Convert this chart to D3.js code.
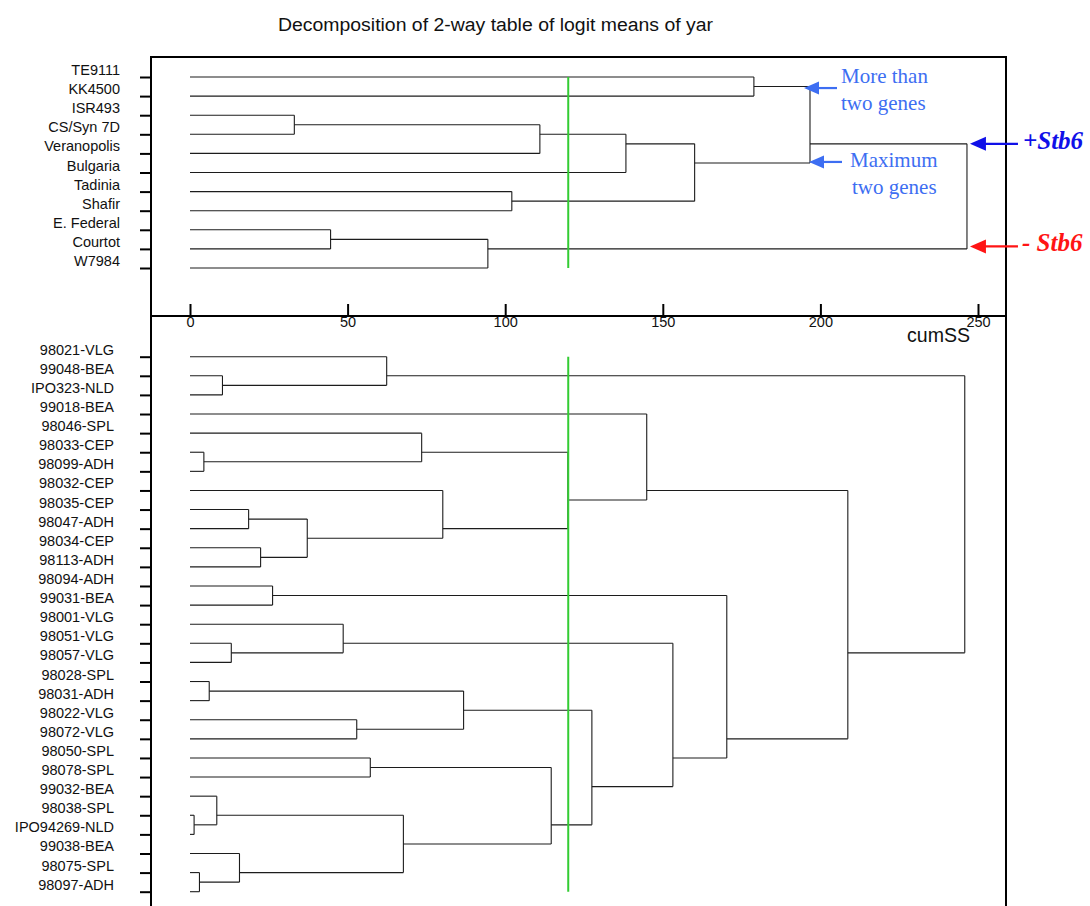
<!DOCTYPE html>
<html>
<head>
<meta charset="utf-8">
<script src="https://cdn.jsdelivr.net/npm/d3@7"></script>
<style>
  body { margin: 0; background: #fff; }
  svg { display: block; font-family: "Liberation Sans", Arial, sans-serif; }
</style>
</head>
<body>
<svg id="chart" width="1090" height="906"></svg>
<script>
// cultivars (top panel), in display order
var topLabels = ["TE9111", "KK4500", "ISR493", "CS/Syn 7D", "Veranopolis", "Bulgaria",
    "Tadinia", "Shafir", "E. Federal", "Courtot", "W7984"];
// merges, hclust style: -k = leaf k (1-based), +m = merge m (1-based)
var topMerge = [[-3, -4], [-9, -10], [2, -11], [-7, -8], [1, -5], [5, -6], [6, 4], [-1, -2], [8, 7], [9, 3]];
var topHeight = [33.1, 44.6, 94.5, 102.1, 111.0, 138.3, 160.1, 178.9, 196.7, 246.5];

// isolates (bottom panel), in display order
var botLabels = ["98021-VLG", "99048-BEA", "IPO323-NLD", "99018-BEA", "98046-SPL", "98033-CEP",
    "98099-ADH", "98032-CEP", "98035-CEP", "98047-ADH", "98034-CEP", "98113-ADH", "98094-ADH",
    "99031-BEA", "98001-VLG", "98051-VLG", "98057-VLG", "98028-SPL", "98031-ADH", "98022-VLG",
    "98072-VLG", "98050-SPL", "98078-SPL", "99032-BEA", "98038-SPL", "IPO94269-NLD", "99038-BEA",
    "98075-SPL", "98097-ADH"];
var botMerge = [[-25, -26], [-28, -29], [-6, -7], [-18, -19], [-24, 1], [-2, -3], [-16, -17],
    [-27, 2], [-9, -10], [-11, -12], [-13, -14], [9, 10], [-15, 7], [-20, -21], [-22, -23],
    [-1, 6], [5, 8], [-5, 3], [-8, 12], [4, 14], [15, 17], [18, 19], [20, 21], [-4, 22],
    [13, 23], [11, 25], [24, 26], [16, 27]];
var botHeight = [1.3, 3.0, 4.4, 6.1, 8.5, 10.3, 13.1, 15.7, 18.6, 22.4, 26.2, 37.2, 48.6, 52.9,
    57.2, 62.4, 67.7, 73.5, 80.2, 86.8, 114.6, 119.9, 127.5, 144.9, 153.2, 170.3, 208.7, 245.8];

var axisTicks = [0, 50, 100, 150, 200, 250];
var cutHeight = 120;

var svg = d3.select("#chart");

var frameLeft = 151, frameRight = 1006, frameTop = 57, axisY = 316;

var x = d3.scaleLinear().domain([0, 250]).range([190, 978]);
var yTop = d3.scalePoint().domain(topLabels).range([77, 268]);
var yBot = d3.scalePoint().domain(botLabels).range([356.7, 891.7]);

// build the tree nodes and draw the elbows
function drawTree(labels, merge, heights, y) {
    var nodes = [];
    function node(k) {
        if (k < 0) return {y: y(labels[-k - 1]), h: 0, n: 1};
        return nodes[k - 1];
    }
    merge.forEach(function (m, i) {
        var a = node(m[0]), b = node(m[1]);
        var n = a.n + b.n;
        nodes.push({a: a, b: b, h: heights[i], n: n, y: (a.y * a.n + b.y * b.n) / n});
    });

    var segs = [];
    nodes.forEach(function (d) {
        segs.push([d.h, d.a.y, d.h, d.b.y]);
        segs.push([d.a.h, d.a.y, d.h, d.a.y]);
        segs.push([d.b.h, d.b.y, d.h, d.b.y]);
    });

    svg.append("g")
        .selectAll("line")
        .data(segs)
        .enter()
        .append("line")
        .attr("x1", function (s) { return x(s[0]); })
        .attr("y1", function (s) { return s[1]; })
        .attr("x2", function (s) { return x(s[2]); })
        .attr("y2", function (s) { return s[3]; })
        .attr("stroke", "#1c1c1c")
        .attr("stroke-width", 1.1);

    // cut line
    svg.append("line")
        .attr("x1", x(cutHeight)).attr("x2", x(cutHeight))
        .attr("y1", y(labels[0])).attr("y2", y(labels[labels.length - 1]))
        .attr("stroke", "#33cc33")
        .attr("stroke-width", 2);

    return nodes;
}

// left axis with labels shifted up a little, as in the original print
function leftAxis(y, padding) {
    var g = svg.append("g")
        .attr("transform", "translate(" + frameLeft + ",0)")
        .call(d3.axisLeft(y).tickSize(11).tickPadding(padding));
    g.select(".domain").remove();
    g.selectAll("line").attr("stroke", "#000").attr("stroke-width", 2);
    g.selectAll("text")
        .attr("dy", null)
        .attr("y", -2.5)
        .attr("fill", "#111")
        .style("font-family", "'Liberation Sans', Arial, sans-serif")
        .style("font-size", "14.5px");
}

leftAxis(yTop, 20);
leftAxis(yBot, 26);

var topNodes = drawTree(topLabels, topMerge, topHeight, yTop);
drawTree(botLabels, botMerge, botHeight, yBot);

// frame
var frame = svg.append("g").attr("stroke", "#000").attr("stroke-width", 2);
frame.append("line").attr("x1", frameLeft).attr("x2", frameRight + 1).attr("y1", frameTop).attr("y2", frameTop);
frame.append("line").attr("x1", frameLeft).attr("x2", frameLeft).attr("y1", frameTop - 1).attr("y2", 906);
frame.append("line").attr("x1", frameRight).attr("x2", frameRight).attr("y1", frameTop - 1).attr("y2", 906);
frame.append("line").attr("x1", frameLeft).attr("x2", frameRight).attr("y1", axisY).attr("y2", axisY);

// cumSS axis
var ax = svg.append("g")
    .attr("transform", "translate(0," + axisY + ")")
    .call(d3.axisBottom(x).tickValues(axisTicks).tickSizeInner(-12).tickSizeOuter(0).tickPadding(1));
ax.select(".domain").remove();
ax.selectAll("line").attr("stroke", "#000").attr("stroke-width", 2);
ax.selectAll("text")
    .attr("fill", "#111")
    .style("font-family", "'Liberation Sans', Arial, sans-serif")
    .style("font-size", "14.5px");

svg.append("text")
    .attr("x", 907).attr("y", 342)
    .attr("fill", "#111")
    .style("font-size", "20px")
    .attr("textLength", 63)
    .attr("lengthAdjust", "spacingAndGlyphs")
    .text("cumSS");

// title
svg.append("text")
    .attr("x", 278).attr("y", 31)
    .attr("fill", "#111")
    .style("font-size", "18px")
    .attr("textLength", 435)
    .attr("lengthAdjust", "spacingAndGlyphs")
    .text("Decomposition of 2-way table of logit means of yar");

// annotations
var nodeA = topNodes[7], nodeF = topNodes[6], nodeG = topNodes[8], nodeI = topNodes[2], root = topNodes[9];

function arrow(tipX, tipY, len, headLen, headHalf, color) {
    svg.append("line")
        .attr("x1", tipX + headLen - 2).attr("x2", tipX + len)
        .attr("y1", tipY).attr("y2", tipY)
        .attr("stroke", color).attr("stroke-width", 2.2);
    svg.append("path")
        .attr("d", "M" + tipX + "," + tipY + "L" + (tipX + headLen) + "," + (tipY - headHalf) +
            "L" + (tipX + headLen) + "," + (tipY + headHalf) + "Z")
        .attr("fill", color);
}

var noteBlue = "#3d6ef2";
arrow(x(nodeG.h) - 6, nodeA.y + 1.5, 33, 15, 6.5, noteBlue);
arrow(x(nodeG.h) - 1, nodeF.y - 1, 33, 15, 6.5, noteBlue);
arrow(x(root.h) + 3, nodeG.y, 48, 16, 7, "#1010e8");
arrow(x(root.h) + 3, nodeI.y - 2.5, 48, 16, 7, "#ff1414");

var notes = [
    {t: "More than", x: 841, y: 83},
    {t: "two genes", x: 841, y: 110},
    {t: "Maximum", x: 850, y: 167},
    {t: "two genes", x: 852, y: 193.5}
];
svg.selectAll("text.note")
    .data(notes)
    .enter()
    .append("text")
    .attr("class", "note")
    .attr("x", function (d) { return d.x; })
    .attr("y", function (d) { return d.y; })
    .attr("fill", noteBlue)
    .style("font-family", "'Liberation Serif', 'Times New Roman', serif")
    .style("font-size", "21px")
    .text(function (d) { return d.t; });

svg.append("text")
    .attr("x", 1023).attr("y", 148.5)
    .attr("fill", "#1010e8")
    .style("font-family", "'Liberation Serif', 'Times New Roman', serif")
    .style("font-size", "25px")
    .style("font-weight", "bold")
    .style("font-style", "italic")
    .text("+Stb6");

svg.append("text")
    .attr("x", 1022).attr("y", 250.5)
    .attr("fill", "#ff1414")
    .style("font-family", "'Liberation Serif', 'Times New Roman', serif")
    .style("font-size", "25px")
    .style("font-weight", "bold")
    .style("font-style", "italic")
    .text("- Stb6");
</script>
</body>
</html>
